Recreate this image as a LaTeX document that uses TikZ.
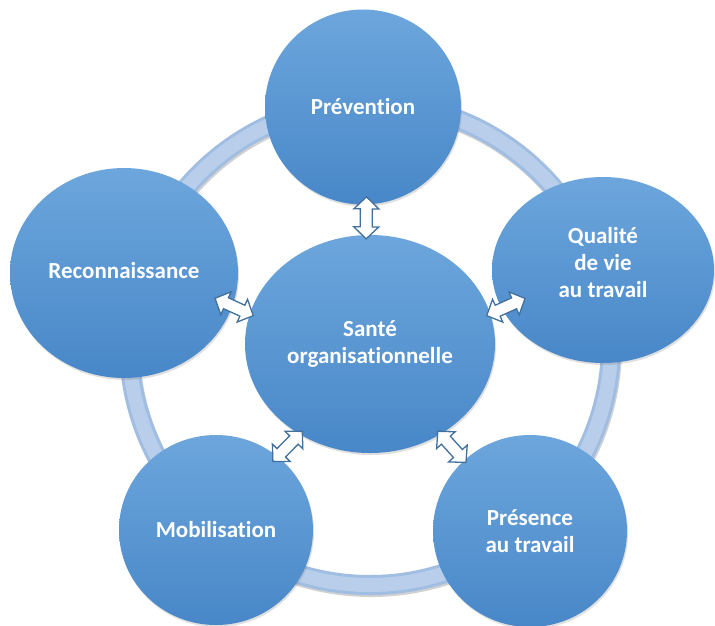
\documentclass[tikz,border=0pt]{standalone}
\usepackage{fontspec}
\setmainfont[Ligatures=NoCommon]{Carlito}
\usepackage{tikz}
\usetikzlibrary{shapes.geometric,shadows,calc,backgrounds}

\definecolor{bubtop}{RGB}{108,166,220}
\definecolor{bubbot}{RGB}{72,135,200}
\definecolor{ringedge}{RGB}{160,189,226}
\definecolor{ringfill}{RGB}{184,206,235}
\definecolor{arrline}{RGB}{65,113,156}

\tikzset{
  bubble/.style={ellipse, inner sep=0pt, top color=bubtop, bottom color=bubbot,
    drop shadow={shadow xshift=1pt, shadow yshift=-2pt, opacity=0.25}},
  txt/.style={text=white, align=center, inner sep=0pt,
    font=\bfseries\fontsize{23}{27}\selectfont},
  dblarr/.style={draw=arrline, fill=white, line width=1.3pt, line join=miter}
}

% hollow double arrow, starts a bit inside #1 and points towards #2
\newcommand{\dblarrow}[2]{%
  \coordinate (da) at ($(#1)!-4pt!(#2)$);
  \coordinate (db) at ($(da)!42pt!(#2)$);
  \draw[dblarr] (da)
    -- ($(da)!12pt!(db)!12.5pt!90:(db)$)
    -- ($(da)!12pt!(db)!6pt!90:(db)$)
    -- ($(db)!12pt!(da)!6pt!-90:(da)$)
    -- ($(db)!12pt!(da)!12.5pt!-90:(da)$)
    -- (db)
    -- ($(db)!12pt!(da)!12.5pt!90:(da)$)
    -- ($(db)!12pt!(da)!6pt!90:(da)$)
    -- ($(da)!12pt!(db)!6pt!-90:(db)$)
    -- ($(da)!12pt!(db)!12.5pt!-90:(db)$)
    -- cycle;}

\begin{document}
\begin{tikzpicture}[x=1pt,y=-1pt]
 \useasboundingbox (0,0) rectangle (715,625);

 \node[bubble, minimum width=250pt, minimum height=218pt,
   label={[txt]center:{Santé\\organisationnelle}}] (sante) at (370,344) {};
 \node[bubble, minimum width=196pt, minimum height=195pt,
   label={[txt]center:Prévention}] (prev) at (363,107) {};
 \node[bubble, minimum width=228pt, minimum height=210pt,
   label={[txt, yshift=2pt]center:Reconnaissance}] (recon) at (124,273) {};
 \node[bubble, minimum width=222pt, minimum height=186pt,
   label={[txt, yshift=7pt]center:{Qualité\\de vie\\au travail}}] (qual) at (603,270) {};
 \node[bubble, minimum width=194pt, minimum height=190pt,
   label={[txt]center:Mobilisation}] (mobil) at (216,530) {};
 \node[bubble, minimum width=194pt, minimum height=192pt,
   label={[txt]center:{Présence\\au travail}}] (pres) at (530,531) {};

 % ring behind the bubbles
 \begin{scope}[on background layer]
  \fill[white] (0,0) rectangle (715,625);
  \draw[black, opacity=0.18, line width=20pt] ([shift={(1,2)}]sante.center) circle[radius=241];
  \draw[ringedge, line width=20pt] (sante.center) circle[radius=241];
  \draw[ringfill, line width=14pt] (sante.center) circle[radius=241];
 \end{scope}

 \dblarrow{sante.92.6}{prev.-88.8}
 \dblarrow{sante.166.6}{recon.-17.9}
 \dblarrow{sante.14.2}{qual.-159.4}
 \dblarrow{sante.-128.6}{mobil.50.6}
 \dblarrow{sante.-52.2}{pres.133.7}
\end{tikzpicture}
\end{document}
